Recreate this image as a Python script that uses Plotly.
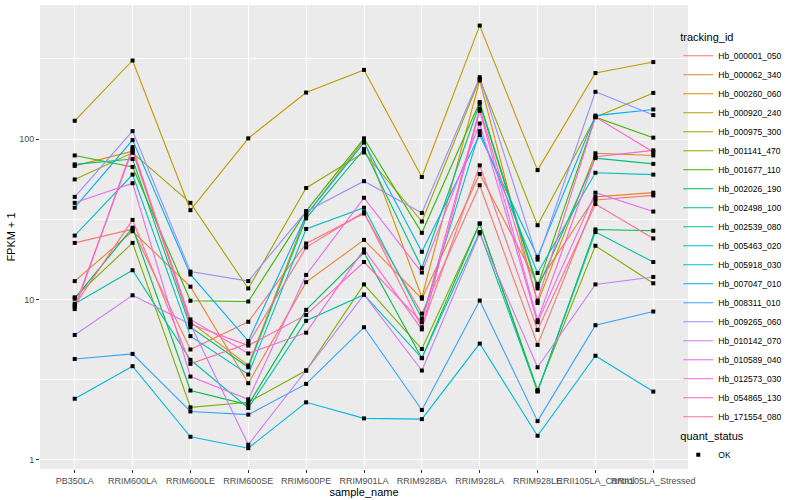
import plotly.graph_objects as go

samples = ["PB350LA", "RRIM600LA", "RRIM600LE", "RRIM600SE", "RRIM600PE", "RRIM901LA",
           "RRIM928BA", "RRIM928LA", "RRIM928LE", "RRII105LA_Control", "RRII105LA_Stressed"]

hb_000001_050 = [22.5, 27.4, 4.87, 7.25, 22.3, 34.3, 8.15, 51.5, 5.2, 41.7, 44.5]
hb_000062_340 = [13, 26.6, 12, 3.0, 12.8, 23.5, 10.1, 60.5, 12.5, 43.6, 46.3]
hb_000260_060 = [68, 84, 7.2, 3.87, 33.5, 98.5, 10.3, 232, 9.5, 81.5, 79]
hb_000920_240 = [130, 309, 36, 101, 195, 270, 58, 510, 64, 258, 302]
hb_000975_300 = [56, 82, 40, 11.7, 49.5, 82.5, 30.6, 237, 29, 137, 194]
hb_001141_470 = [10.3, 22.5, 2.12, 2.28, 3.6, 12.4, 4.9, 29.7, 2.72, 21.6, 12.6]
hb_001677_110 = [79, 67, 9.8, 9.7, 35.5, 101, 26, 170, 12.1, 137, 102]
hb_002026_190 = [10.1, 28, 2.7, 2.2, 8.6, 19.6, 4.3, 29.7, 2.67, 27.3, 26.8]
hb_002498_100 = [69.5, 75, 6.7, 3.77, 32, 86.5, 15.7, 166, 11.7, 76, 70]
hb_002539_080 = [9.4, 15.2, 4.2, 2.1, 7.35, 10.7, 4.3, 26.3, 2.67, 26.3, 17.1]
hb_005463_020 = [25, 60, 5.9, 3.4, 27.5, 37.3, 7.6, 112, 14.6, 61.6, 60]
hb_005918_030 = [2.4, 3.83, 1.39, 1.18, 2.28, 1.81, 1.79, 5.3, 1.41, 4.45, 2.66]
hb_007047_010 = [37.3, 98.5, 14.3, 5.5, 33.5, 95, 19.8, 106, 18.4, 140, 153]
hb_008311_010 = [4.25, 4.57, 2.0, 1.91, 2.97, 6.7, 2.04, 9.83, 1.74, 6.9, 8.4]
hb_009265_060 = [43.6, 112, 14.9, 13, 35.3, 54.6, 34.6, 243, 17.7, 197, 141]
hb_010142_070 = [6.0, 10.6, 7.0, 1.24, 3.6, 10.7, 3.6, 25.8, 3.77, 12.4, 13.8]
hb_010589_040 = [40, 53, 3.3, 2.38, 14.2, 43, 14.7, 125, 7.2, 46.3, 35.3]
hb_012573_030 = [9.0, 86, 7.5, 4.6, 6.2, 20.5, 6.5, 150, 7.4, 77.6, 85]
hb_054865_130 = [8.7, 89, 7.0, 5.15, 8.0, 17.1, 7.2, 155, 9.83, 137, 83]
hb_171554_080 = [9.2, 31.3, 3.96, 5.3, 21.1, 35, 6.7, 68.5, 6.45, 39.3, 24]

tracking_ids = ["Hb_000001_050", "Hb_000062_340", "Hb_000260_060", "Hb_000920_240", "Hb_000975_300",
                "Hb_001141_470", "Hb_001677_110", "Hb_002026_190", "Hb_002498_100", "Hb_002539_080",
                "Hb_005463_020", "Hb_005918_030", "Hb_007047_010", "Hb_008311_010", "Hb_009265_060",
                "Hb_010142_070", "Hb_010589_040", "Hb_012573_030", "Hb_054865_130", "Hb_171554_080"]
series_values = [hb_000001_050, hb_000062_340, hb_000260_060, hb_000920_240, hb_000975_300,
                 hb_001141_470, hb_001677_110, hb_002026_190, hb_002498_100, hb_002539_080,
                 hb_005463_020, hb_005918_030, hb_007047_010, hb_008311_010, hb_009265_060,
                 hb_010142_070, hb_010589_040, hb_012573_030, hb_054865_130, hb_171554_080]
colors = ["#F8766D", "#EA8331", "#D89000", "#C09B00", "#A3A500", "#7CAE00", "#39B600", "#00BB4E",
          "#00BF7D", "#00C1A3", "#00BFC4", "#00BAE0", "#00B0F6", "#35A2FF", "#9590FF", "#C77CFF",
          "#E76BF3", "#FA62DB", "#FF62BC", "#FF6C91"]

fig = go.Figure()
for name, vals, col in zip(tracking_ids, series_values, colors):
    fig.add_trace(go.Scatter(x=samples, y=vals, mode="lines", name=name,
                             line=dict(color=col, width=1.1), legend="legend"))

px, py = [], []
for vals in series_values:
    px.extend(samples)
    py.extend(vals)
fig.add_trace(go.Scatter(x=px, y=py, mode="markers", name="OK",
                         marker=dict(color="black", size=4, symbol="square"), legend="legend2"))

font_family = "Liberation Sans, Arial, sans-serif"
fig.update_layout(
    width=800, height=500,
    margin=dict(l=40, r=112, t=5, b=31, autoexpand=False),
    paper_bgcolor="white", plot_bgcolor="#EBEBEB",
    font=dict(family=font_family, size=9, color="black"),
    xaxis=dict(type="category", range=[-0.6, 10.6], showgrid=True, gridcolor="white", gridwidth=1.1,
               zeroline=False, ticks="outside", ticklen=3, tickcolor="#333333", tickangle=0,
               automargin=False,
               tickfont=dict(size=9, color="#4D4D4D"),
               title=dict(text="sample_name", font=dict(size=11, color="black"), standoff=0)),
    yaxis=dict(type="log", range=[-0.058, 2.836], tickvals=[1, 10, 100], ticktext=["1", "10", "100"],
               showgrid=True, gridcolor="white", gridwidth=1.1, zeroline=False, automargin=False,
               ticks="outside", ticklen=3, tickcolor="#333333",
               tickfont=dict(size=9, color="#4D4D4D"),
               minor=dict(tickvals=[10 ** 0.5, 10 ** 1.5, 10 ** 2.5], showgrid=True,
                          gridcolor="white", gridwidth=0.5, ticklen=0),
               title=dict(text="FPKM + 1", font=dict(size=11, color="black"), standoff=1)),
    legend=dict(x=0.985, y=0.9526, xanchor="left", yanchor="top", bgcolor="rgba(0,0,0,0)",
                title=dict(text="tracking_id", font=dict(size=11)), font=dict(size=8.5),
                itemwidth=30, tracegroupgap=0),
    legend2=dict(x=0.985, y=0.093, xanchor="left", yanchor="top", bgcolor="rgba(0,0,0,0)",
                 title=dict(text="quant_status", font=dict(size=11)), font=dict(size=8.5),
                 itemwidth=30),
    showlegend=True,
)
fig.write_html("out.html", config={"displayModeBar": False},
               post_script="document.body.style.margin='0px';")
